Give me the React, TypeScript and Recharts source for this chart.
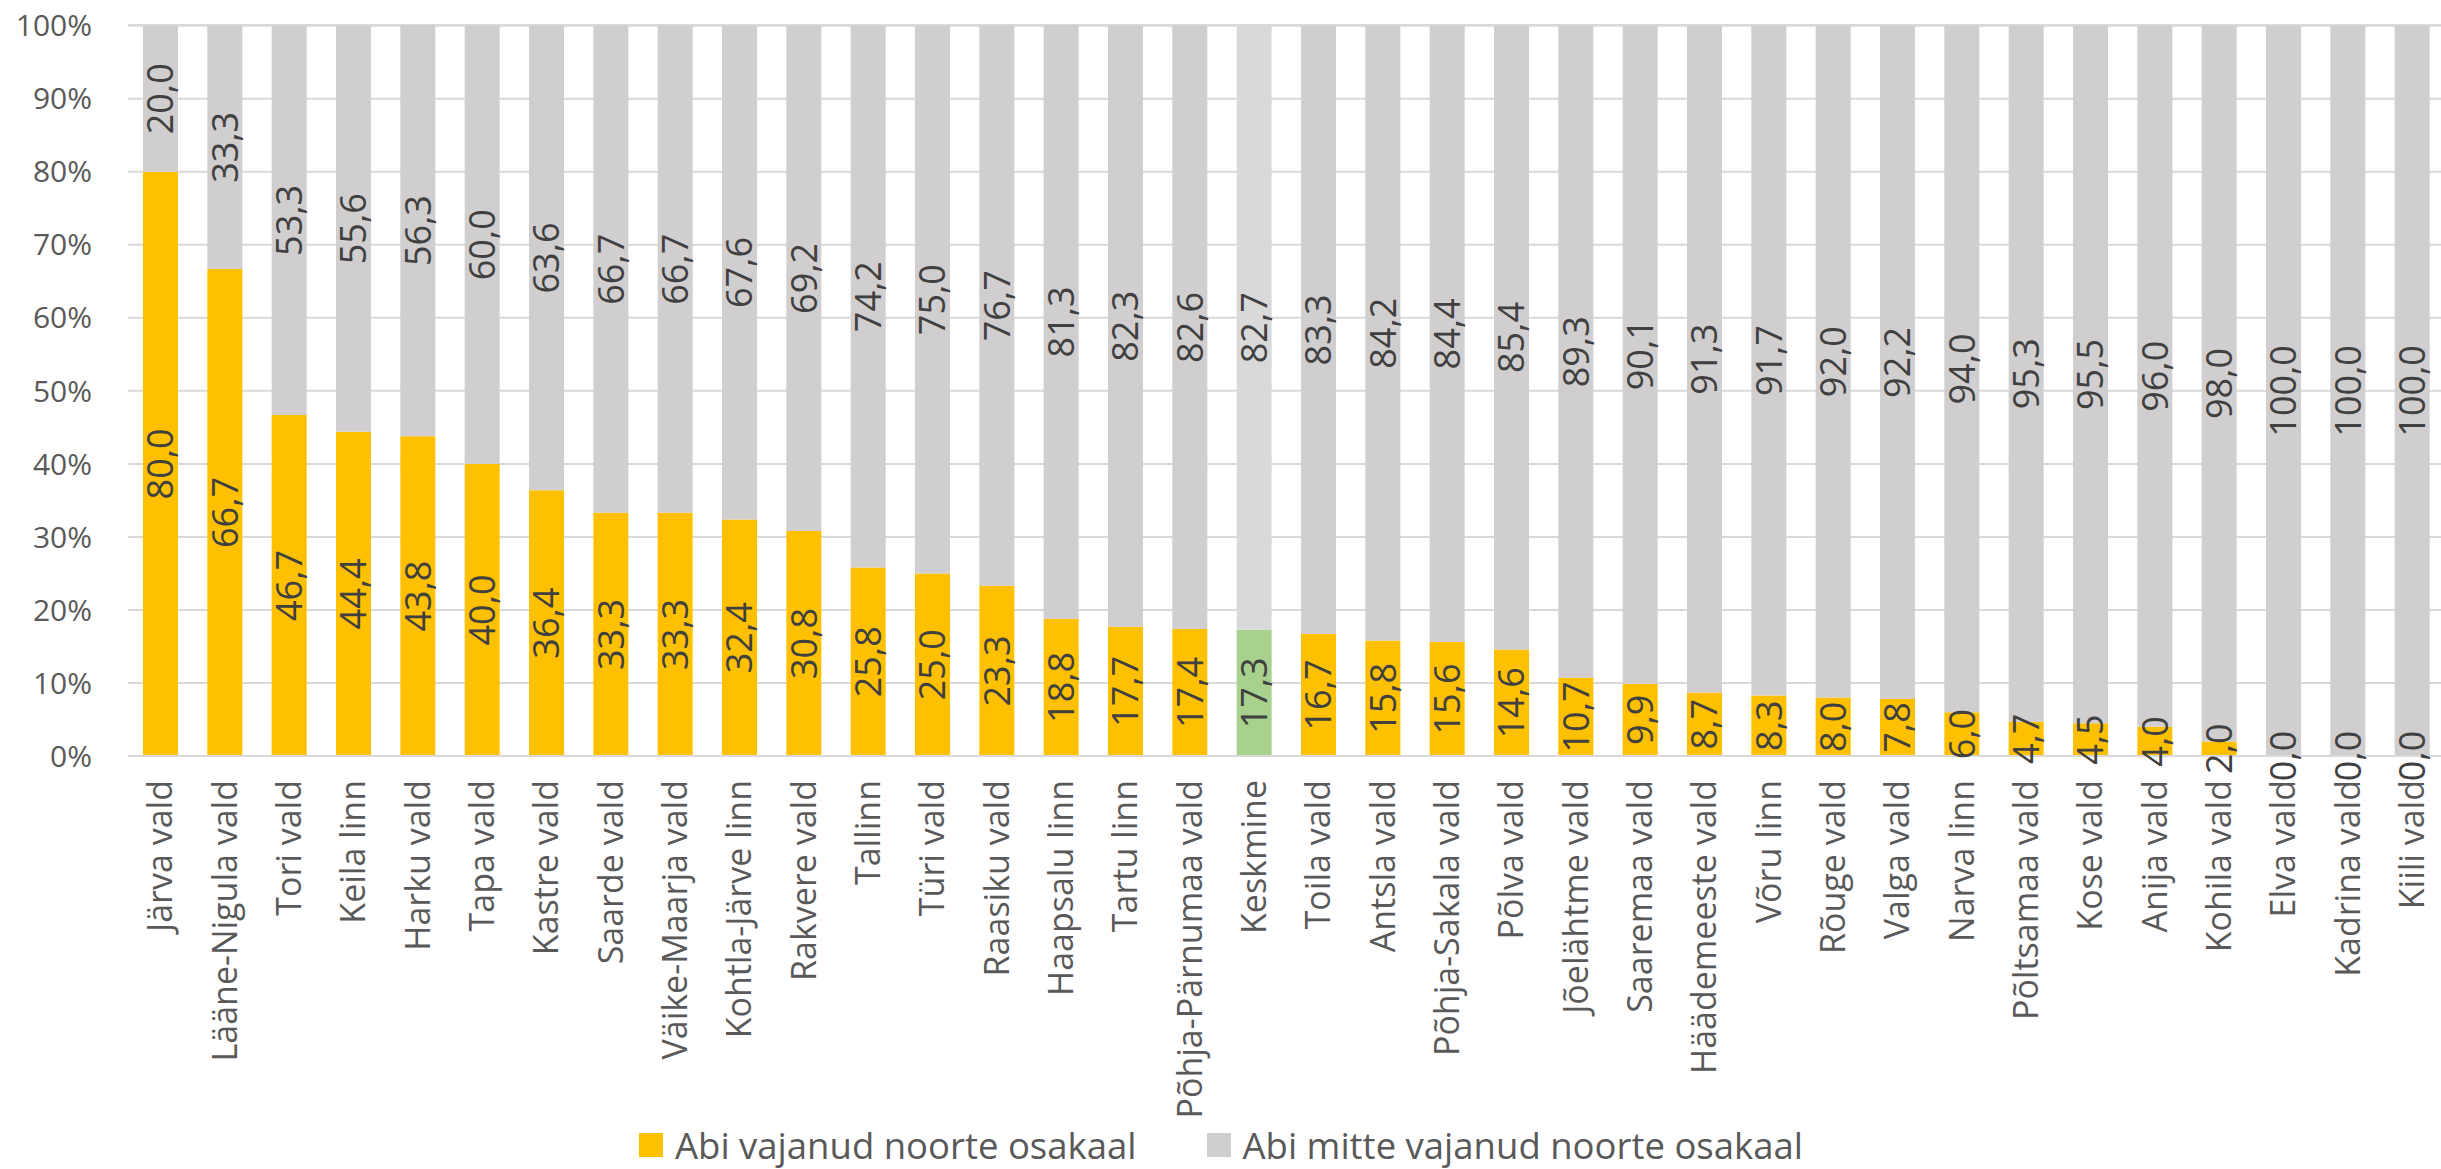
import { Bar, BarChart, CartesianGrid, Cell, LabelList, Legend, XAxis, YAxis } from 'recharts'

const categories = [
	'Järva vald', 'Lääne-Nigula vald', 'Tori vald', 'Keila linn', 'Harku vald', 'Tapa vald',
	'Kastre vald', 'Saarde vald', 'Väike-Maarja vald', 'Kohtla-Järve linn', 'Rakvere vald', 'Tallinn',
	'Türi vald', 'Raasiku vald', 'Haapsalu linn', 'Tartu linn', 'Põhja-Pärnumaa vald', 'Keskmine',
	'Toila vald', 'Antsla vald', 'Põhja-Sakala vald', 'Põlva vald', 'Jõelähtme vald', 'Saaremaa vald',
	'Häädemeeste vald', 'Võru linn', 'Rõuge vald', 'Valga vald', 'Narva linn', 'Põltsamaa vald',
	'Kose vald', 'Anija vald', 'Kohila vald', 'Elva vald', 'Kadrina vald', 'Kiili vald',
]

const needHelp = [
	80.0, 66.7, 46.7, 44.4, 43.8, 40.0, 36.4, 33.3, 33.3, 32.4, 30.8, 25.8,
	25.0, 23.3, 18.8, 17.7, 17.4, 17.3, 16.7, 15.8, 15.6, 14.6, 10.7, 9.9,
	8.7, 8.3, 8.0, 7.8, 6.0, 4.7, 4.5, 4.0, 2.0, 0.0, 0.0, 0.0,
]

const noHelp = [
	20.0, 33.3, 53.3, 55.6, 56.3, 60.0, 63.6, 66.7, 66.7, 67.6, 69.2, 74.2,
	75.0, 76.7, 81.3, 82.3, 82.6, 82.7, 83.3, 84.2, 84.4, 85.4, 89.3, 90.1,
	91.3, 91.7, 92.0, 92.2, 94.0, 95.3, 95.5, 96.0, 98.0, 100.0, 100.0, 100.0,
]

const yTicks = [0, 10, 20, 30, 40, 50, 60, 70, 80, 90, 100]

const seriesNames = ['Abi vajanud noorte osakaal', 'Abi mitte vajanud noorte osakaal']

const data = categories.map((name, i) => ({ name, yes: needHelp[i], no: noHelp[i] }))

const FONT = '"Open Sans", sans-serif'
const YELLOW = '#FFC000'
const GRAY = '#D0CECE'
const AVG = 'Keskmine'

function fmt(v: number) {
	return v.toFixed(1).replace('.', ',')
}

function VText({ cx, cy, value }: { cx: number; cy: number; value: number }) {
	return (
		<text
			x={cx}
			y={cy}
			dy='0.36em'
			transform={`rotate(-90 ${cx} ${cy})`}
			textAnchor='middle'
			fill='#404040'
			fontSize={36}
			fontFamily={FONT}
		>
			{fmt(value)}
		</text>
	)
}

function BarLabel(props: any) {
	const box = props.viewBox ?? props
	const { x, y, width, height } = box
	if (x == null || props.value == null) return null
	const cx = x + width / 2
	const zeroBelow = props.series === 'no' && needHelp[props.index] === 0
	return (
		<g>
			<VText cx={cx} cy={y + height / 2} value={Number(props.value)} />
			{/* zero-height yellow bars get no label from recharts, draw it at the base */}
			{zeroBelow && <VText cx={cx} cy={y + height} value={0} />}
		</g>
	)
}

function CategoryTick({ x, y, payload }: any) {
	const ty = y + 24
	return (
		<text
			x={x}
			y={ty}
			dy='0.36em'
			transform={`rotate(-90 ${x} ${ty})`}
			textAnchor='end'
			fill='#595959'
			fontSize={34}
			fontFamily={FONT}
		>
			{payload.value}
		</text>
	)
}

function LegendBox() {
	const colors = [YELLOW, GRAY]
	return (
		<div style={{ display: 'flex', alignItems: 'center', paddingLeft: 639, fontFamily: FONT, fontSize: 36.5, color: '#595959' }}>
			{seriesNames.map((n, i) => (
				<div key={n} style={{ display: 'flex', alignItems: 'center', marginRight: 70 }}>
					<span style={{ width: 24, height: 24, background: colors[i], display: 'inline-block', marginRight: 12 }} />
					<span style={{ lineHeight: '38px' }}>{n}</span>
				</div>
			))}
		</div>
	)
}

export default function App() {
	return (
		<div style={{ position: 'absolute', left: 0, top: 0, width: 2441, height: 1169, overflow: 'hidden', background: '#fff' }}>
			<BarChart
				width={2444}
				height={1169}
				data={data}
				margin={{ top: 25, right: 0, bottom: 78, left: 0 }}
				barSize={35}
			>
				<CartesianGrid vertical={false} stroke='#D9D9D9' strokeWidth={2} />
				<XAxis
					dataKey='name'
					interval={0}
					height={297}
					tickLine={false}
					tickSize={0}
					tickMargin={0}
					axisLine={{ stroke: '#D9D9D9', strokeWidth: 2 }}
					tick={<CategoryTick />}
				/>
				<YAxis
					width={128}
					domain={[0, 100]}
					ticks={yTicks}
					interval={0}
					tickFormatter={(v) => `${v}%`}
					axisLine={false}
					tickLine={false}
					tickSize={0}
					tickMargin={36}
					tick={{ fill: '#595959', fontSize: 30, fontFamily: FONT }}
				/>
				<Legend
					verticalAlign='bottom'
					content={<LegendBox />}
					wrapperStyle={{ position: 'absolute', left: 0, top: 1126, width: 2441, height: 38 }}
				/>
				<Bar dataKey='yes' stackId='a' name={seriesNames[0]} fill={YELLOW} isAnimationActive={false}>
					{data.map((d) => (
						<Cell key={d.name} fill={d.name === AVG ? '#A9D18E' : YELLOW} />
					))}
					<LabelList dataKey='yes' content={<BarLabel series='yes' />} />
				</Bar>
				<Bar dataKey='no' stackId='a' name={seriesNames[1]} fill={GRAY} isAnimationActive={false}>
					{data.map((d) => (
						<Cell key={d.name} fill={d.name === AVG ? '#D9D9D9' : GRAY} />
					))}
					<LabelList dataKey='no' content={<BarLabel series='no' />} />
				</Bar>
			</BarChart>
		</div>
	)
}
